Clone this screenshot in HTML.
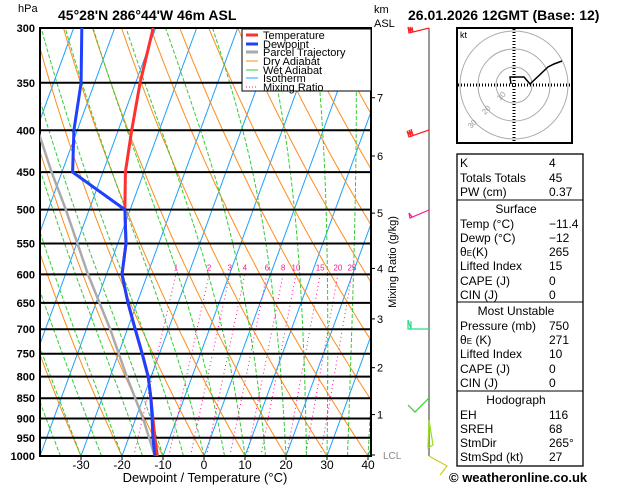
<!DOCTYPE html>
<html><head><meta charset="utf-8"><style>
body{margin:0;background:#fff;width:629px;height:486px;overflow:hidden;font-family:"Liberation Sans","DejaVu Sans",sans-serif}
svg{position:absolute;left:0;top:0}
</style></head><body>
<svg id="c" width="629" height="486" viewBox="0 0 629 486" font-family="Liberation Sans, DejaVu Sans, sans-serif">
<defs><clipPath id="pc"><rect x="40" y="28" width="331" height="428"/></clipPath>
<clipPath id="hc"><rect x="457" y="28" width="115" height="115"/></clipPath></defs>
<g id="bg" clip-path="url(#pc)"></g>
<g id="frame"></g>
<g id="prof" clip-path="url(#pc)"></g>
<text x="18" y="12" font-size="11">hPa</text>
<text x="58" y="20" font-size="14" font-weight="bold">45°28'N  286°44'W  46m  ASL</text>
<text x="374" y="13" font-size="11">km</text>
<text x="374" y="27" font-size="11">ASL</text>
<text x="408" y="20" font-size="14" font-weight="bold">26.01.2026  12GMT  (Base: 12)</text>
<text x="205" y="482" font-size="13" text-anchor="middle">Dewpoint / Temperature (°C)</text>
<text transform="translate(396,262) rotate(-90)" font-size="11" text-anchor="middle">Mixing Ratio (g/kg)</text>
<g>
<rect x="242" y="29" width="129" height="62" fill="#fff" stroke="#000" stroke-width="1"/>
<line x1="246" y1="35" x2="258" y2="35" stroke="#ff3030" stroke-width="3"/><text x="263" y="39" font-size="11">Temperature</text>
<line x1="246" y1="44" x2="258" y2="44" stroke="#2040ff" stroke-width="3"/><text x="263" y="48" font-size="11">Dewpoint</text>
<line x1="246" y1="52" x2="258" y2="52" stroke="#aaa" stroke-width="3"/><text x="263" y="56" font-size="11">Parcel Trajectory</text>
<line x1="246" y1="61" x2="258" y2="61" stroke="#ff8c1a" stroke-width="1"/><text x="263" y="65" font-size="11">Dry Adiabat</text>
<line x1="246" y1="70" x2="258" y2="70" stroke="#33cc33" stroke-width="1"/><text x="263" y="74" font-size="11">Wet Adiabat</text>
<line x1="246" y1="78" x2="258" y2="78" stroke="#1ea0ff" stroke-width="1"/><text x="263" y="82" font-size="11">Isotherm</text>
<line x1="246" y1="87" x2="258" y2="87" stroke="#ff1493" stroke-width="1" stroke-dasharray="1,2"/><text x="263" y="91" font-size="11">Mixing Ratio</text>
</g>
<g id="winds"></g>
<g>
<rect x="457" y="28" width="115" height="115" fill="#fff" stroke="#000" stroke-width="2"/>
<g clip-path="url(#hc)" fill="none" stroke="#aaa">
<circle cx="514" cy="85" r="18"/><circle cx="514" cy="85" r="36"/><circle cx="514" cy="85" r="54"/></g>
<line x1="514" y1="29" x2="514" y2="142" stroke="#000" stroke-dasharray="1,2" stroke-width="3"/>
<line x1="458" y1="85" x2="571" y2="85" stroke="#000" stroke-dasharray="1,2" stroke-width="3"/>
<text x="460" y="38" font-size="9">kt</text>
<text x="500" y="101" font-size="8" fill="#999" transform="rotate(-45 500 101)">10</text>
<text x="485" y="115" font-size="8" fill="#999" transform="rotate(-45 485 115)">20</text>
<text x="471" y="129" font-size="8" fill="#999" transform="rotate(-45 471 129)">30</text>
<polyline points="511,84 510,77 524,77 530,84 548,67 554,64 562,61" fill="none" stroke="#000" stroke-width="1.5"/>
</g>
<g font-size="12">
<rect x="457" y="154" width="126" height="312" fill="none" stroke="#000" stroke-width="1.3"/>
<line x1="457" y1="200" x2="583" y2="200" stroke="#000"/>
<line x1="457" y1="302" x2="583" y2="302" stroke="#000"/>
<line x1="457" y1="391" x2="583" y2="391" stroke="#000"/>
<text x="460" y="167">K</text><text x="549" y="167">4</text>
<text x="460" y="182">Totals Totals</text><text x="549" y="182">45</text>
<text x="460" y="196">PW (cm)</text><text x="549" y="196">0.37</text>
<text x="516" y="213" text-anchor="middle">Surface</text>
<text x="460" y="228">Temp (°C)</text><text x="549" y="228">−11.4</text>
<text x="460" y="242">Dewp (°C)</text><text x="549" y="242">−12</text>
<text x="460" y="256">θ<tspan font-size="8">E</tspan>(K)</text><text x="549" y="256">265</text>
<text x="460" y="270">Lifted Index</text><text x="549" y="270">15</text>
<text x="460" y="285">CAPE (J)</text><text x="549" y="285">0</text>
<text x="460" y="299">CIN (J)</text><text x="549" y="299">0</text>
<text x="516" y="315" text-anchor="middle">Most Unstable</text>
<text x="460" y="330">Pressure (mb)</text><text x="549" y="330">750</text>
<text x="460" y="344">θ<tspan font-size="8">E</tspan> (K)</text><text x="549" y="344">271</text>
<text x="460" y="358">Lifted Index</text><text x="549" y="358">10</text>
<text x="460" y="373">CAPE (J)</text><text x="549" y="373">0</text>
<text x="460" y="387">CIN (J)</text><text x="549" y="387">0</text>
<text x="516" y="404" text-anchor="middle">Hodograph</text>
<text x="460" y="419">EH</text><text x="549" y="419">116</text>
<text x="460" y="433">SREH</text><text x="549" y="433">68</text>
<text x="460" y="447">StmDir</text><text x="549" y="447">265°</text>
<text x="460" y="461">StmSpd (kt)</text><text x="549" y="461">27</text>
</g>
<text x="449" y="482" font-size="13" font-weight="bold">© weatheronline.co.uk</text>
</svg>
<script>
const pressureLevels=[1000,950,900,850,800,750,700,650,600,550,500,450,400,350,300];
const tempC=[-11.4,-13.6,-15.8,-18.1,-20.7,-24.2,-28.1,-32.2,-36.2,-38.0,-41.3,-44.5,-46.7,-48.9,-50.6];
const dewC=[-12.0,-14.1,-16.0,-18.1,-20.7,-24.2,-28.1,-32.2,-36.2,-38.0,-41.3,-57.4,-60.8,-63.3,-68.0];
const parcelP=[1000,900,800,700,600,500,450,400];
const parcelT=[-12.0,-18.2,-25.9,-34.2,-44.5,-55.7,-62.5,-69.6];
const xTicks=[-30,-20,-10,0,10,20,30,40];
const mixRatios=[1,2,3,4,6,8,10,15,20,25];
const kmLabels=[1,2,3,4,5,6,7];
const kmPressures=[890,780,680,590,505,430,365];

const NS='http://www.w3.org/2000/svg';
const X0=40,X1=371,YT=28,YB=456;
function yP(p){return YT+Math.log(p/300)/Math.log(1000/300)*(YB-YT);}
function xT(t,p){return 204+4.1*t+0.366*(YB-yP(p));}
function mk(tag,attrs,parent){const e=document.createElementNS(NS,tag);for(const k in attrs)e.setAttribute(k,attrs[k]);parent.appendChild(e);return e;}
const bg=document.getElementById('bg'),fr=document.getElementById('frame'),pr=document.getElementById('prof');
function pathFrom(pts){return pts.map((q,i)=>(i?'L':'M')+q[0].toFixed(1)+','+q[1].toFixed(1)).join('');}
const plist=[];for(let p=1000;p>=250;p-=10)plist.push(p);
for(let t=-120;t<=40;t+=10){const e=mk('path',{d:pathFrom([[xT(t,1000),yP(1000)],[xT(t,250),yP(250)]]),stroke:'#1ea0ff','stroke-width':1,fill:'none'},bg);
}
for(let th=-40;th<=200;th+=10){const thK=th+273.15;const pts=plist.map(p=>[xT(thK*Math.pow(p/1000,0.286)-273.15,p),yP(p)]);
const e=mk('path',{d:pathFrom(pts),stroke:'#ff8c1a','stroke-width':1,fill:'none'},bg);
}
function es(t){return 6.112*Math.exp(17.67*t/(t+243.5));}
function moist(t0,pStart,pEnd){const pts=[];let T=t0+273.15;for(let p=pStart;p>=pEnd;p-=5){pts.push([xT(T-273.15,p),yP(p)]);
const e=es(T-273.15),rs=0.622*e/(p-e);const dTdp=(287*T+2.5e6*rs)/(p*(1004+2.5e6*2.5e6*rs*0.622/(287*T*T)));T-=dTdp*5;}return pts;}
for(let t=-40;t<=40;t+=5){const pts=moist(t,1000,250);
const e=mk('path',{d:pathFrom(pts),stroke:'#33cc33','stroke-width':1,fill:'none','stroke-dasharray':'4,2'},bg);
}
function tdFromW(w,p){const e=w*p/(622+w);const l=Math.log(e/6.112);return 243.5*l/(17.67-l);}
mixRatios.forEach(w=>{const pts=[1000,600].map(p=>[xT(tdFromW(w,p),p),yP(p)]);
const e=mk('path',{d:pathFrom(pts),stroke:'#ff1493','stroke-width':1,fill:'none','stroke-dasharray':'1,3'},bg);

const tx=mk('text',{x:pts[1][0],y:yP(600)-4,'font-size':8,fill:'#ff1493','text-anchor':'middle'},bg);tx.textContent=w;
});
pressureLevels.forEach(p=>{const y=yP(p);const l=mk('line',{x1:X0,y1:y,x2:X1,y2:y,stroke:'#000','stroke-width':2},fr);

const t=mk('text',{x:35,y:y+4,'font-size':11,'font-weight':'bold','text-anchor':'end'},fr);t.textContent=p;
});
const bd=mk('rect',{x:X0,y:YT,width:X1-X0,height:YB-YT,fill:'none',stroke:'#000','stroke-width':2},fr);

xTicks.forEach(t=>{const x=xT(t,1000);mk('line',{x1:x,y1:YB,x2:x,y2:YB+4,stroke:'#000'},fr);
const tx=mk('text',{x:x,y:469,'font-size':12,'text-anchor':'middle'},fr);tx.textContent=t;
});
kmLabels.forEach((k,i)=>{const y=yP(kmPressures[i]);mk('line',{x1:X1,y1:y,x2:X1+4,y2:y,stroke:'#000'},fr);
const tx=mk('text',{x:377,y:y+4,'font-size':11},fr);tx.textContent=k;
});
{mk('line',{x1:X1,y1:YB-1,x2:X1+4,y2:YB-1,stroke:'#000'},fr);const tx=mk('text',{x:383,y:459,'font-size':10,fill:'#888'},fr);tx.textContent='LCL';
}
{const e=mk('path',{d:pathFrom(parcelP.map((p,i)=>[xT(parcelT[i],p),yP(p)])),stroke:'#aaa','stroke-width':2.5,fill:'none'},pr);
}
{const e=mk('path',{d:pathFrom(pressureLevels.map((p,i)=>[xT(tempC[i],p),yP(p)])),stroke:'#ff3030','stroke-width':3,fill:'none'},pr);
}
{const e=mk('path',{d:pathFrom(pressureLevels.map((p,i)=>[xT(dewC[i],p),yP(p)])),stroke:'#2040ff','stroke-width':3,fill:'none'},pr);
}
const w=document.getElementById('winds');
mk('line',{x1:429,y1:28,x2:429,y2:456,stroke:'#777','stroke-width':1.5},w);
const barbs=[[28,'#ff2020','429,28 409,33 408,27 411,33 410,27 413,32 412,27'],[130,'#ff2020','429,130 409,137 407,131 411,136 409,130 413,135 411,129'],
[210,'#ff1493','429,210 410,218 409,213 412,217'],[329,'#20dd88','429,329 408,329 408,320 411,329 411,321'],
[398,'#33cc33','429,398 415,412 408,405'],[420,'#99dd22','429,420 433,445 428,448 429,420'],[456,'#cccc22','429,456 447,466 440,475']];
barbs.forEach(b=>{const e=mk('polyline',{points:b[2],fill:'none',stroke:b[1],'stroke-width':1.2},w);
});
</script>
</body></html>
